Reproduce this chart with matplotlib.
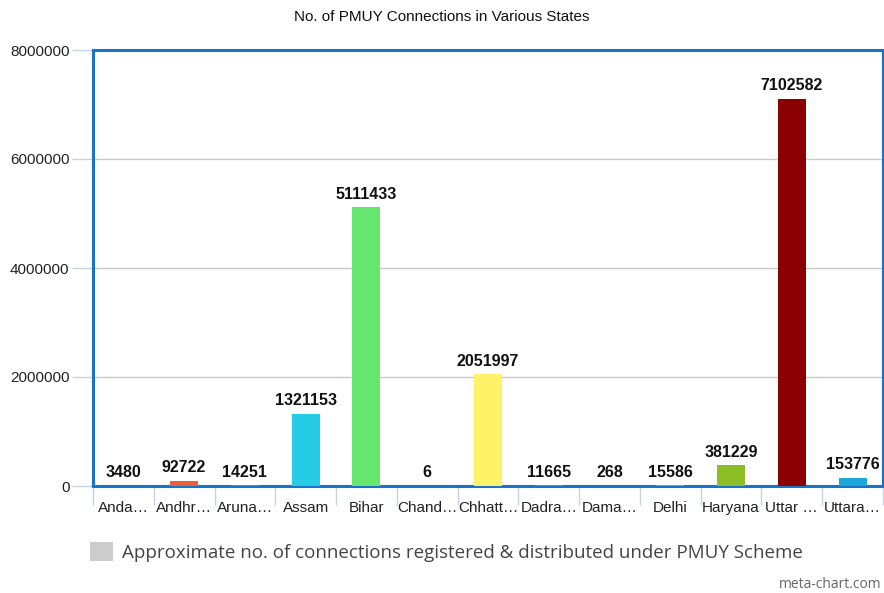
import matplotlib
matplotlib.use("Agg")
import matplotlib.pyplot as plt
from matplotlib.patches import Patch

states = ["Andaman & Nicobar", "Andhra Pradesh", "Arunachal Pradesh", "Assam", "Bihar",
          "Chandigarh", "Chhattisgarh", "Dadra & Nagar Haveli", "Daman & Diu", "Delhi",
          "Haryana", "Uttar Pradesh", "Uttarakhand"]
tick_labels = ["Anda…", "Andhr…", "Aruna…", "Assam", "Bihar", "Chand…", "Chhatt…",
               "Dadra…", "Dama…", "Delhi", "Haryana", "Uttar …", "Uttara…"]
values = [3480, 92722, 14251, 1321153, 5111433, 6, 2051997, 11665, 268, 15586,
          381229, 7102582, 153776]
colors = ["#3366cc", "#e8603c", "#9966cc", "#26cce6", "#66e66e", "#cc3399", "#fff266",
          "#3399ff", "#ff9933", "#33cc99", "#8cbf26", "#8b0000", "#1ba8d6"]
y_ticks = [0, 2000000, 4000000, 6000000, 8000000]

plt.rcParams['font.family'] = ['Liberation Sans', 'DejaVu Sans']

fig = plt.figure(figsize=(8.84, 5.93), dpi=100)
ax = fig.add_axes([93/884, 1-486/593, 790/884, 436/593])

x = list(range(len(values)))
bars = ax.bar(x, values, width=0.46, color=colors, zorder=3)
for xi, v in zip(x, values):
    ax.annotate(str(v), (xi, v), xytext=(0, 4), textcoords="offset points",
                ha="center", va="bottom", fontsize=11.5, fontweight="bold", color="#111111")

ax.set_xlim(-0.5, len(values) - 0.5)
ax.set_ylim(0, 8000000)
ax.set_yticks(y_ticks)
ax.set_yticklabels([str(t) for t in y_ticks], fontsize=11, color="#222222")
ax.yaxis.grid(True, color="#c8c8c8", linewidth=1, zorder=0)
ax.tick_params(axis="y", length=15, color="#c5d3e2", width=1, pad=2)

ax.set_xticks(x)
ax.set_xticklabels(tick_labels, fontsize=11, color="#222222")
ax.tick_params(axis="x", length=0, pad=11)
ax.set_xticks([i - 0.5 for i in range(len(values) + 1)], minor=True)
ax.tick_params(axis="x", which="minor", length=14, color="#c5d3e2", width=1)

for s in ax.spines.values():
    s.set_color("#1a73c9")
    s.set_linewidth(2.2)

fig.text(0.5, 1 - 17/593, "No. of PMUY Connections in Various States", ha="center",
         va="center", fontsize=11, color="#111111")

fig.legend(handles=[Patch(facecolor="#cccccc", edgecolor="none")],
           labels=["Approximate no. of connections registered & distributed under PMUY Scheme"],
           loc="center left", bbox_to_anchor=(90/884, 1 - 552/593), frameon=False,
           prop={"family": "Open Sans", "size": 13.5}, labelcolor="#444444",
           handlelength=1.2, handleheight=1.2, handletextpad=0.5, borderaxespad=0,
           borderpad=0)

fig.text(1 - 2/884, 1 - 584/593, "meta-chart.com", ha="right", va="center",
         fontsize=10, color="#666666", family="Open Sans")

fig.savefig("out.png", dpi=100)
